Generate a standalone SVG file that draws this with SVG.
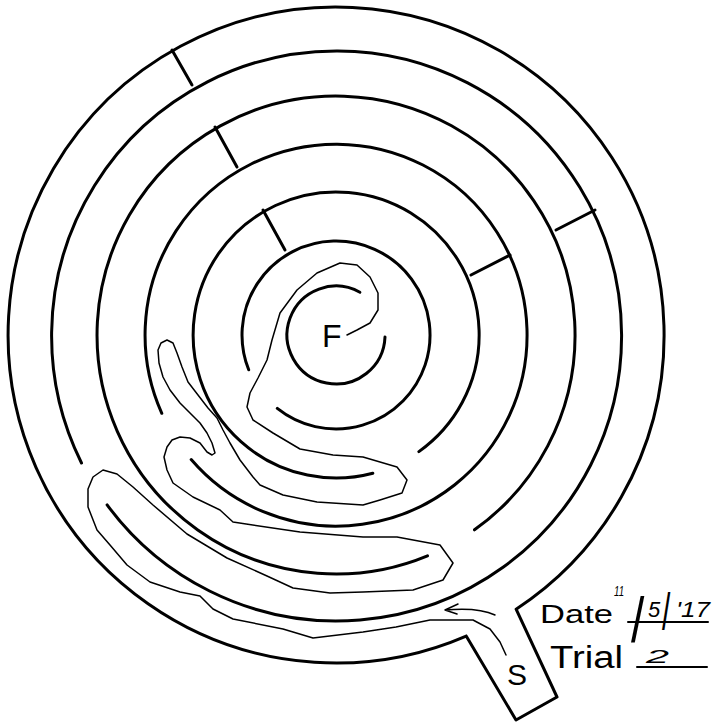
<svg xmlns="http://www.w3.org/2000/svg" width="726" height="723" viewBox="0 0 726 723">
<style>
.wall{fill:none;stroke:#000;stroke-width:3;stroke-linecap:round;stroke-linejoin:round}
.trail{fill:none;stroke:#000;stroke-width:1.5;stroke-linecap:round;stroke-linejoin:round}
.t{font-family:"Liberation Sans",Arial,sans-serif;fill:#000}
.h{font-family:"Liberation Sans",Arial,sans-serif;font-style:italic;fill:#000}
.ul{fill:none;stroke:#000;stroke-width:2;stroke-linecap:round}
</style>
<rect width="726" height="723" fill="#fff"/>
<g id="maze-walls">
  <path id="ring1" class="wall" d="M466.2,636.1 L516,720 L557,697 L516.1,609.2 A328,328 0 1 0 466.2,636.1"/>
  <path id="ring2" class="wall" d="M107.1,504.9 A285,285 0 1 0 81.5,463.0"/>
  <path id="ring3" class="wall" d="M474.5,529.8 A239,239 0 1 0 427.5,555.8"/>
  <path id="ring4" class="wall" d="M191.2,459.6 A191,191 0 1 0 161.8,413.3"/>
  <path id="ring5" class="wall" d="M418.9,451.6 A143,143 0 1 0 372.8,473.2"/>
  <path id="ring6" class="wall" d="M277.3,408.4 A94,94 0 1 0 248.7,369.8"/>
  <path id="ring7" class="wall" d="M359.9,292.2 A49,49 0 1 0 385,337"/>
  <g id="radial-walls">
    <line class="wall" x1="172" y1="50" x2="192" y2="85"/>
    <line class="wall" x1="215" y1="127" x2="237" y2="167"/>
    <line class="wall" x1="263" y1="210" x2="285" y2="250"/>
    <line class="wall" x1="556" y1="230" x2="595" y2="210"/>
    <line class="wall" x1="471" y1="275" x2="510" y2="255"/>
  </g>
</g>
<g id="trail">
  <path class="trail" d="M506,655 L500,642 L490,629 L473,620 L430,620 L396,627 L363,632 L313,638 L283,629 L233,619 L213,609 L200,596 L180,592 L150,582 L127,565 L110,545 L97,530 L88,507 L88,489 L93,477 L103,470 L117,474 L133,487 L153,505 L187,534 L227,558 L267,576 L293,588 L330,593 L363,592 L413,590 L443,580 L453,563 L440,545 L397,537 L363,537 L300,532 L233,522 L220,510 L193,497 L173,483 L167,470 L164,457 L167,447 L172,440 L180,437 L190,438 L200,443 L207,452 L212,455 L215,453 L212,443 L207,433 L200,423 L190,413 L180,403 L170,390 L163,377 L159,363 L158,350 L161,343 L167,340 L173,343 L177,353 L182,367 L188,382 L198,395 L208,408 L217,418 L223,430 L230,443 L240,460 L253,477 L260,485 L283,495 L317,502 L363,505 L380,500 L402,493 L407,480 L397,467 L363,457 L333,455 L300,449 L273,433 L253,420 L247,407 L250,393 L258,378 L267,360 L272,340 L280,313 L297,290 L317,273 L340,263 L357,265 L370,277 L378,293 L378,310 L370,323 L357,330 L347,335"/>
  <path class="trail" d="M495,615 Q478,607 445,610 M458,604 L445,610 L457,614"/>
</g>
<g id="labels">
  <text id="F" class="t" x="322" y="347" font-size="32">F</text>
  <text id="S" class="t" x="507" y="685" font-size="30">S</text>
  <text class="t" x="540" y="623" font-size="25" textLength="73" lengthAdjust="spacingAndGlyphs">Date</text>
  <text class="h" x="614" y="596" font-size="14" textLength="10" lengthAdjust="spacingAndGlyphs">11</text>
  <text class="t" transform="translate(631,642) scale(1,1.3)" font-size="48">/</text>
  <text class="h" x="648" y="617" font-size="22">5</text>
  <text class="t" transform="translate(662,630) scale(1,1.75)" font-size="30">/</text>
  <text class="h" x="676" y="617" font-size="22" textLength="34" lengthAdjust="spacingAndGlyphs">'17</text>
  <path class="ul" d="M628,622 L708,622"/>
  <text class="t" x="550" y="668" font-size="31" textLength="73" lengthAdjust="spacingAndGlyphs">Trial</text>
  <text class="h" x="646" y="663" font-size="18" textLength="23" lengthAdjust="spacingAndGlyphs">2</text>
  <path class="ul" d="M637,667 L707,667"/>
</g>
</svg>
